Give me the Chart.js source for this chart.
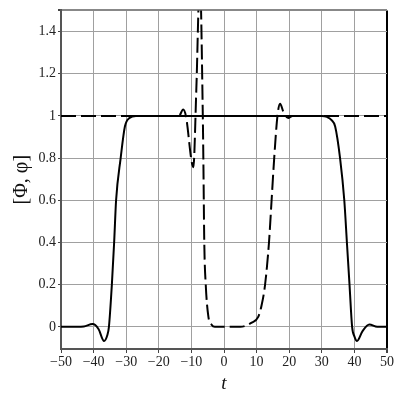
<!DOCTYPE html>
<html>
<head>
<meta charset="utf-8">
<script src="https://cdn.jsdelivr.net/npm/chart.js@4/dist/chart.umd.min.js"></script>
<style>
  html, body { margin: 0; padding: 0; background: #fff; }
</style>
</head>
<body>
<canvas id="myChart" width="400" height="400"></canvas>
<script>
// * values
const tBig = [-50, -45, -43, -40.3, -38.5, -36.8, -35.8, -35.3, -34.4, -33.7, -33.1, -31.7, -30.4, -29, -27, -20, 0, 20, 30, 31.6, 33, 34.1, 35.6, 36.9, 37.7, 38.5, 39.3, 40, 40.8, 42.5, 44.6, 47, 50];
const phiBig = [0, 0, 0.002, 0.013, -0.01, -0.067, -0.04, 0, 0.2, 0.4, 0.6, 0.8, 0.95, 0.99, 1, 1, 1, 1, 1, 0.995, 0.98, 0.95, 0.8, 0.6, 0.4, 0.2, 0, -0.045, -0.067, -0.02, 0.011, 0, 0];

const tSmall = [-50, -20, -15, -14, -12.5, -11.7, -9.4, -8.5, -7.4, -6.5, -6.3, -6.05, -5.6, -4.8, -3.8, -2.8, 0, 5, 8.5, 10.5, 11.5, 12.6, 13.8, 14.6, 15.4, 16.4, 17.2, 18.2, 19.7, 21, 30, 50];
const phiSmall = [1, 1, 1, 0.995, 1.03, 1.0, 0.757, 1.12, 1.65, 1.0, 0.75, 0.4, 0.2, 0.05, 0.01, 0, 0, 0, 0.02, 0.047, 0.1, 0.2, 0.4, 0.6, 0.8, 1.0, 1.058, 1.02, 0.99, 1.0, 1, 1];

const xTicks = [-50, -40, -30, -20, -10, 0, 10, 20, 30, 40, 50];
const yTicks = [0, 0.2, 0.4, 0.6, 0.8, 1, 1.2, 1.4, 1.5];

const toPoints = (xs, ys) => xs.map((x, i) => ({ x: x, y: ys[i] }));
const minus = (s) => String(s).replace("-", "\u2212");
const serif = "'Liberation Serif', 'DejaVu Serif', serif";

const data = {
  datasets: [
    {
      label: "Φ",
      data: toPoints(tBig, phiBig),
      borderColor: "#000",
      borderWidth: 2,
      pointRadius: 0,
      cubicInterpolationMode: "monotone",
    },
    {
      label: "φ",
      data: toPoints(tSmall, phiSmall),
      borderColor: "#000",
      borderWidth: 2,
      borderDash: [15, 5],
      pointRadius: 0,
      cubicInterpolationMode: "monotone",
    },
  ],
};

let config = {
  type: "line",
  data: data,
  options: {
    responsive: false,
    animation: false,
    layout: { padding: { top: 6, right: 13, left: 0, bottom: 0 } },
    plugins: {
      legend: { display: false },
      tooltip: { enabled: false },
    },
    scales: {
      x: {
        type: "linear",
        min: -50,
        max: 50,
        afterBuildTicks: (s) => { s.ticks = xTicks.map((v) => ({ value: v })); },
        afterFit: (s) => { s.height = 51; },
        grid: {
          color: (c) => (c.tick && c.tick.value === 50 ? "#000" : "#a0a0a0"),
          lineWidth: (c) => (c.tick && c.tick.value === 50 ? 2 : 1),
          tickLength: 4,
          tickColor: "#444",
        },
        border: { color: "#555", width: 2 },
        ticks: {
          color: "#222",
          padding: 1,
          maxRotation: 0,
          font: { family: serif, size: 14 },
          callback: (v) => minus(v),
        },
        title: {
          display: true,
          text: "t",
          color: "#111",
          padding: { top: 0, bottom: 5 },
          font: { family: serif, size: 19, style: "italic" },
        },
      },
      y: {
        type: "linear",
        min: -0.105,
        max: 1.5,
        afterBuildTicks: (s) => { s.ticks = yTicks.map((v) => ({ value: v })); },
        afterFit: (s) => { s.width = 61; },
        grid: {
          color: (c) => (c.tick && c.tick.value === 1.5 ? "#888" : "#a0a0a0"),
          lineWidth: (c) => (c.tick && c.tick.value === 1.5 ? 2 : 1),
          tickLength: 3,
          tickColor: "#444",
        },
        border: { color: "#555", width: 2 },
        ticks: {
          color: "#222",
          padding: 2,
          font: { family: serif, size: 14 },
          callback: (v) => (v === 1.5 ? "" : minus(v)),
        },
        title: {
          display: true,
          text: "[Φ, φ]",
          color: "#111",
          padding: { top: 10, bottom: 0 },
          font: { family: serif, size: 20 },
        },
      },
    },
  },
};

let chart = new Chart("myChart", config);
</script>
</body>
</html>
